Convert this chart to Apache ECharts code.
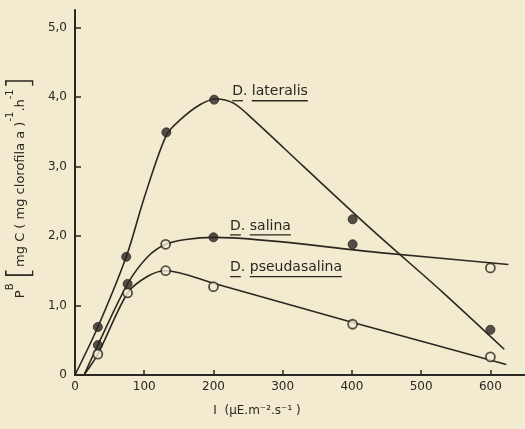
<!DOCTYPE html>
<html>
<head>
<meta charset="utf-8">
<script src="https://cdn.jsdelivr.net/npm/echarts@6/dist/echarts.min.js"></script>
<style>
html, body { margin: 0; padding: 0; background: #f2ebcf; }
#main { width: 525px; height: 429px; }
</style>
</head>
<body>
<div id="main"></div>
<script>
// measured points (I, P^B)
var lateralisPts = [[33, 0.69], [74, 1.70], [132, 3.49], [201, 3.96], [401, 2.24], [600, 0.65]]
var salinaPts = [[33, 0.43], [76, 1.31], [131, 1.88], [200, 1.98], [401, 1.88], [600, 1.54]]
var pseudaPts = [[33, 0.30], [76, 1.18], [131, 1.50], [200, 1.27], [401, 0.73], [600, 0.26]]
var salinaOpenAt = [131, 600]

// fitted curves
var lateralisCurve = [[0, 0], [33, 0.69], [74, 1.70], [100, 2.55], [132, 3.45], [153, 3.68], [181, 3.89], [203, 3.97], [229, 3.91], [258, 3.67], [330, 3.0], [430, 2.08], [530, 1.2], [620, 0.37]]
var salinaCurve = [[13, 0], [33, 0.43], [76, 1.31], [105, 1.70], [131, 1.88], [160, 1.95], [200, 1.98], [440, 1.76], [626, 1.59]]
var pseudaCurve = [[13, 0], [33, 0.30], [76, 1.18], [105, 1.42], [131, 1.50], [200, 1.32], [400, 0.76], [623, 0.15]]

// label anchors (left edge, vertical centre) in data units
var labels = [
	{name: "lateralis", at: [227, 4.06]},
	{name: "salina", at: [224, 2.13]},
	{name: "pseudasalina", at: [224, 1.53]},
]

var ink = "#2b2722", paper = "#f2ebcf", font = "DejaVu Sans"
var chart = echarts.init(document.getElementById("main"), null, {renderer: "canvas"})

function curve(data) {
	return {type: "line", data: data, smooth: 0.3, showSymbol: false, silent: true,
		lineStyle: {color: ink, width: 1.6}, z: 2}
}
function dots(data, open) {
	return {type: "scatter", data: data.map(function(p) {
		var o = open(p[0]); return {value: p, itemStyle: {color: o? paper: ink, borderColor: ink, borderWidth: o? 1.8: 1}}
	}), symbolSize: 9, z: 3}
}

var option = {
	backgroundColor: paper, animation: false,
	textStyle: {fontFamily: font, color: ink},
	grid: {left: 75, right: 0, top: 10, bottom: 54, outerBoundsMode: "none"},
	xAxis: {type: "value", min: 0, max: 650, interval: 100,
		axisLine: {lineStyle: {color: ink, width: 2}},
		axisTick: {inside: true, length: 5, lineStyle: {color: ink, width: 1.5}},
		splitLine: {show: false},
		axisLabel: {color: ink, fontSize: 12, margin: 6, showMaxLabel: false},
		name: "I  (μE.m⁻².s⁻¹ )", nameLocation: "middle", nameGap: 30,
		nameTextStyle: {color: ink, fontSize: 12, padding: [0, 86, 0, 0]},
	},
	yAxis: {type: "value", min: 0, max: 5.25, interval: 1,
		axisLine: {lineStyle: {color: ink, width: 2}},
		axisTick: {inside: true, length: 6, lineStyle: {color: ink, width: 1.5}},
		splitLine: {show: false},
		axisLabel: {color: ink, fontSize: 12, margin: 8, showMaxLabel: false,
			formatter: function(v) { return v == 0? "0": v.toFixed(1).replace(".", ",") }},
		name: "{t|P}{sup|B}{t| }{br|[}{t|mg C ( mg clorofila a )}{sup|-1}{t|.h}{sup|-1}{br|]}",
		nameLocation: "middle", nameRotate: 90, nameGap: 32,
		nameTextStyle: {padding: [0, 0, 0, 10], rich: {
			t: {fontSize: 13, color: ink, fontFamily: font},
			sup: {fontSize: 10, color: ink, fontFamily: font, verticalAlign: "top", padding: [0, 0, 8, 0]},
			br: {fontSize: 32, color: ink, fontFamily: font, fontWeight: 200},
		}},
	},
	series: [
		curve(lateralisCurve), curve(salinaCurve), curve(pseudaCurve),
		dots(lateralisPts, function() { return false }),
		dots(salinaPts, function(x) { return salinaOpenAt.indexOf(x) > -1 }),
		dots(pseudaPts, function() { return true }),
	],
}
chart.setOption(option)

// species labels with underlined words
var ctx = document.createElement("canvas").getContext("2d"), fs = 14
ctx.font = fs+"px "+font
var graphic = []
labels.forEach(function(l) {
	var p = chart.convertToPixel({gridIndex: 0}, l.at), x = p[0], y = p[1]
	var wD = ctx.measureText("D").width, wGap = ctx.measureText(". ").width, wN = ctx.measureText(l.name).width
	graphic.push({type: "text", left: x, top: y-fs/2-1, silent: true,
		style: {text: "D. "+l.name, font: fs+"px "+font, fill: ink}})
	graphic.push({type: "line", silent: true, shape: {x1: x, y1: y+fs/2+1, x2: x+wD, y2: y+fs/2+1}, style: {stroke: ink, lineWidth: 1.3}})
	graphic.push({type: "line", silent: true, shape: {x1: x+wD+wGap, y1: y+fs/2+1, x2: x+wD+wGap+wN, y2: y+fs/2+1}, style: {stroke: ink, lineWidth: 1.3}})
})
chart.setOption({graphic: graphic})
</script>
</body>
</html>
